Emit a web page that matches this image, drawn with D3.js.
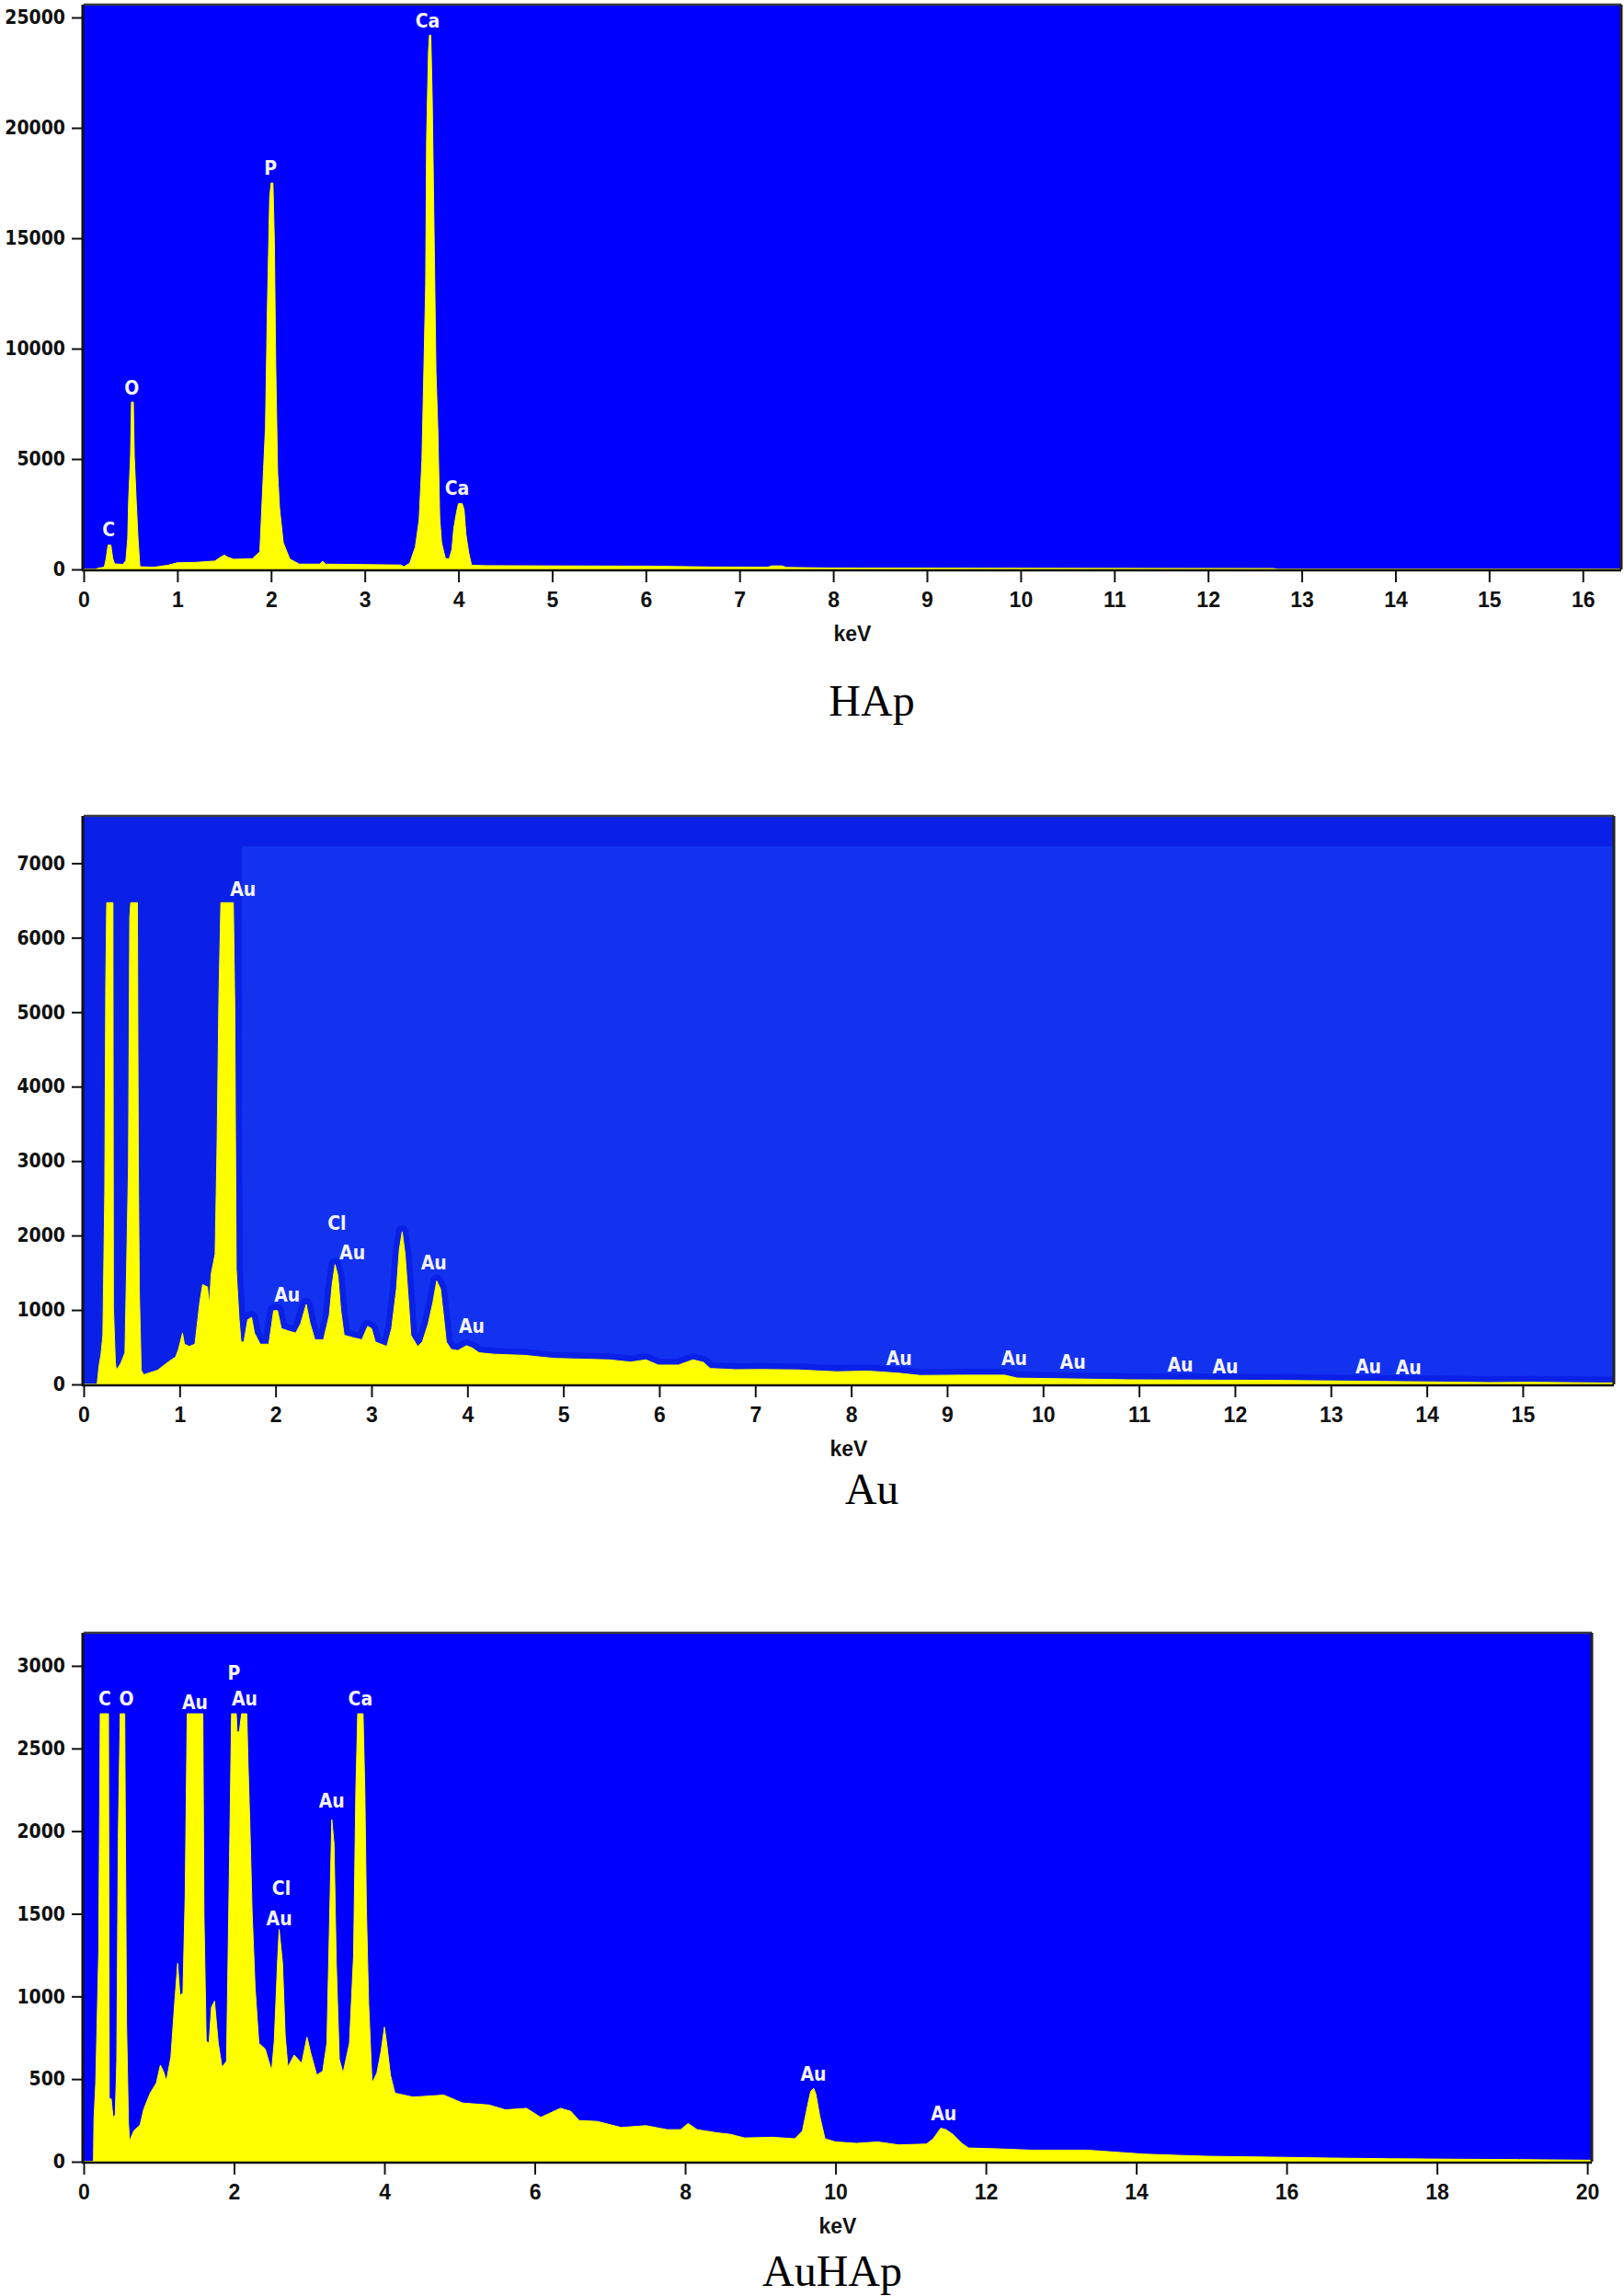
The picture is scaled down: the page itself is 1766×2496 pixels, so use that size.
<!DOCTYPE html>
<html>
<head>
<meta charset="utf-8">
<script src="https://cdn.jsdelivr.net/npm/d3@7"></script>
<style>
body { margin: 0; background: #ffffff; }
svg { display: block; }
.ytick text { font-family: "DejaVu Sans Condensed", "DejaVu Sans", sans-serif; font-stretch: condensed; font-weight: bold; font-size: 21px; fill: #111; }
.xtick text { font-family: "Liberation Sans", Arial, sans-serif; font-weight: bold; font-size: 23px; fill: #111; }
.unit { font-family: "Liberation Sans", Arial, sans-serif; font-weight: bold; font-size: 23px; fill: #111; }
.peak { font-family: "DejaVu Sans Condensed", "DejaVu Sans", sans-serif; font-stretch: condensed; font-weight: bold; font-size: 21px; fill: #f4f4f4; }
.title { font-family: "Liberation Serif", "Times New Roman", serif; font-size: 48px; fill: #000; }
</style>
</head>
<body>
<script>

// ---- HAp spectrum ----
const hapKeV = [0, 0.12, 0.16, 0.22, 0.24, 0.26, 0.29, 0.31, 0.33, 0.42, 0.45, 0.47, 0.48, 0.50, 0.51, 0.53, 0.54, 0.56, 0.58, 0.60,
  0.75, 0.9, 1.0, 1.2, 1.4, 1.46, 1.5, 1.54, 1.6, 1.8, 1.88, 1.92, 1.94, 1.96, 1.985, 2.0, 2.02, 2.035, 2.05, 2.07, 2.09, 2.13, 2.2, 2.3,
  2.52, 2.55, 2.58, 3.0, 3.38, 3.42, 3.48, 3.54, 3.58, 3.61, 3.635, 3.65, 3.66, 3.68, 3.69, 3.705, 3.72, 3.74, 3.76, 3.78, 3.80, 3.82, 3.86, 3.9,
  3.93, 3.95, 3.98, 4.0, 4.04, 4.06, 4.08, 4.11, 4.14, 4.3, 5.0, 6.0, 6.7, 7.3, 7.35, 7.45, 7.5, 8.0, 12.7, 12.75, 16.41];
const hapCounts = [0, 0, 60, 100, 500, 1100, 1100, 500, 250, 230, 400, 1400, 3170, 5160, 7580, 7580, 5160, 3170, 1400, 120,
  100, 190, 300, 320, 380, 550, 650, 550, 460, 480, 800, 4560, 6430, 11700, 16860, 17500, 17500, 14900, 9200, 4380, 2800, 1210, 470, 240,
  240, 370, 240, 220, 200, 130, 280, 1020, 2240, 4940, 9870, 12950, 19560, 23470, 24200, 24200, 21330, 15180, 8940, 6330, 2330, 1210, 500, 470,
  900, 1860, 2600, 2980, 2980, 2700, 1580, 745, 186, 170, 160, 150, 110, 100, 160, 160, 90, 60, 40, 0, 0];
const hapYTicks = [0, 5000, 10000, 15000, 20000, 25000];
const hapXTicks = [0, 1, 2, 3, 4, 5, 6, 7, 8, 9, 10, 11, 12, 13, 14, 15, 16];
const hapLabels = ["C", "O", "P", "Ca", "Ca"];
const hapLabelKeV = [0.267, 0.512, 1.994, 3.67, 3.985];
const hapLabelCounts = [1497, 7919, 17870, 24540, 3357];

// ---- Au spectrum ----
const auKeV = [0, 0.14, 0.16, 0.18, 0.2, 0.22, 0.23, 0.24, 0.305, 0.31, 0.33, 0.34, 0.386, 0.43, 0.45, 0.467, 0.48, 0.49, 0.56, 0.57, 0.58, 0.60, 0.625,
  0.77, 0.88, 0.96, 0.99, 1.03, 1.05, 1.1, 1.16, 1.21, 1.24, 1.29, 1.31, 1.33, 1.37, 1.39, 1.41, 1.43, 1.56, 1.575, 1.59, 1.62, 1.64, 1.67,
  1.71, 1.75, 1.78, 1.84, 1.93, 1.98, 2.02, 2.06, 2.13, 2.21, 2.26, 2.32, 2.355, 2.41, 2.5, 2.56, 2.59, 2.62, 2.65, 2.68, 2.715, 2.8, 2.9,
  2.96, 3.0, 3.04, 3.16, 3.21, 3.26, 3.29, 3.32, 3.35, 3.38, 3.41, 3.48, 3.53, 3.59, 3.64, 3.68, 3.72, 3.75, 3.78, 3.83, 3.9, 3.99, 4.05,
  4.12, 4.28, 4.6, 4.9, 5.48, 5.7, 5.86, 5.99, 6.2, 6.35, 6.46, 6.53, 6.79, 7.08, 7.44, 7.85, 8.17, 8.5, 8.72, 9.15, 9.6, 9.73, 10.9, 12.5,
  14.65, 15.1, 15.8, 15.95];
const auCounts = [0, 0, 250, 400, 660, 2580, 5360, 6470, 6470, 1045, 300, 190, 280, 425, 1750, 2940, 6270, 6470, 6470, 2940, 1250, 190, 130,
  190, 300, 370, 480, 690, 540, 510, 540, 1100, 1340, 1310, 1075, 1490, 1750, 3200, 5240, 6470, 6470, 5060, 1550, 870, 570, 570,
  870, 900, 690, 540, 540, 990, 990, 750, 720, 690, 810, 1075, 840, 600, 600, 930, 1340, 1610, 1460, 990, 660, 630, 600,
  780, 750, 570, 510, 750, 1280, 1810, 2050, 1750, 1220, 660, 510, 570, 810, 1100, 1390, 1280, 930, 570, 470, 455, 520, 490,
  425, 405, 390, 350, 330, 300, 330, 260, 260, 330, 297, 214, 198, 200, 195, 170, 180, 150, 120, 125, 125, 85, 62, 54,
  25, 29, 20, 20];
const auYTicks = [0, 1000, 2000, 3000, 4000, 5000, 6000, 7000];
const auXTicks = [0, 1, 2, 3, 4, 5, 6, 7, 8, 9, 10, 11, 12, 13, 14, 15];
const auLabels = ["Au", "Au", "Cl", "Au", "Au", "Au", "Au", "Au", "Au", "Au", "Au", "Au", "Au"];
const auLabelKeV = [1.66, 2.12, 2.64, 2.80, 3.65, 4.045, 8.50, 9.70, 10.31, 11.43, 11.90, 13.39, 13.81];
const auLabelCounts = [6557, 1112, 2076, 1680, 1545, 692, 256, 256, 206, 177, 152, 152, 132];

// ---- AuHAp spectrum ----
const auhapKeV = [0, 0.13, 0.137, 0.16, 0.2, 0.22, 0.33, 0.34, 0.366, 0.39, 0.42, 0.44, 0.46, 0.486, 0.546, 0.557, 0.57, 0.596, 0.61, 0.667,
  0.75, 0.8, 0.885, 0.967, 1.02, 1.06, 1.1, 1.16, 1.21, 1.25, 1.28, 1.32, 1.35, 1.377, 1.585, 1.6, 1.63, 1.667, 1.7, 1.74, 1.79, 1.84, 1.9,
  1.94, 1.967, 2.03, 2.04, 2.07, 2.1, 2.17, 2.186, 2.21, 2.24, 2.28, 2.33, 2.415, 2.5, 2.535, 2.58, 2.6, 2.645, 2.68, 2.716, 2.8, 2.9, 2.97,
  3.02, 3.1, 3.18, 3.235, 3.27, 3.3, 3.33, 3.36, 3.4, 3.45, 3.535, 3.59, 3.62, 3.645, 3.716, 3.74, 3.76, 3.79, 3.836, 3.9, 3.956, 4.0, 4.03,
  4.08, 4.14, 4.38, 4.79, 5.04, 5.39, 5.61, 5.89, 6.08, 6.34, 6.48, 6.59, 6.83, 7.15, 7.48, 7.76, 7.94, 8.04, 8.16, 8.41, 8.6, 8.79, 9.16,
  9.46, 9.56, 9.63, 9.67, 9.71, 9.74, 9.79, 9.86, 10.0, 10.28, 10.56, 10.84, 11.21, 11.3, 11.4, 11.47, 11.56, 11.68, 11.77, 12.15, 12.61,
  13.35, 14.1, 14.93, 15.76, 16.6, 17.4, 18.25, 19.1, 20.06];
const auhapCounts = [0, 0, 258, 476, 1270, 2710, 2710, 380, 380, 270, 283, 608, 1950, 2710, 2710, 1830, 838, 234, 125, 186,
  222, 319, 415, 476, 584, 548, 488, 633, 959, 1200, 1007, 1019, 1610, 2710, 2710, 1490, 729, 717, 935, 971, 717, 572, 608,
  1828, 2710, 2710, 2600, 2600, 2710, 2710, 2408, 2045, 1514, 1055, 717, 681, 548, 729, 1224, 1405, 1200, 765, 572, 645, 596, 753,
  657, 524, 548, 717, 1442, 2070, 1925, 1200, 620, 536, 717, 1249, 2239, 2710, 2710, 2239, 1538, 959, 476, 536, 669, 814, 717,
  524, 415, 391, 403, 355, 343, 314, 323, 268, 323, 305, 249, 244, 207, 218, 194, 194, 231, 194, 176, 166, 144, 148,
  139, 185, 342, 425, 444, 407, 277, 139, 120, 111, 120, 102, 107, 139, 203, 194, 166, 111, 83, 78, 70,
  70, 46, 33, 28, 22, 18, 15, 13, 9];
const auhapYTicks = [0, 500, 1000, 1500, 2000, 2500, 3000];
const auhapXTicks = [0, 2, 4, 6, 8, 10, 12, 14, 16, 18, 20];
const auhapLabels = ["C", "O", "Au", "P", "Au", "Ca", "Au", "Cl", "Au", "Au", "Au"];
const auhapLabelKeV = [0.28, 0.57, 1.48, 2.0, 2.14, 3.68, 3.30, 2.63, 2.60, 9.705, 11.44];
const auhapLabelCounts = [2760, 2760, 2738, 2915, 2760, 2760, 2140, 1614, 1433, 491, 250];

var width = 1766, height = 2496;
var svg = d3.select("body").append("svg").attr("width", width).attr("height", height);

var panels = [
  {id: "hap", left: 91, right: 1763, top: 5, bottom: 619, xMax: 16.41, yMax: 25583,
   keV: hapKeV, counts: hapCounts, xTicks: hapXTicks, yTicks: hapYTicks,
   labels: hapLabels, labelKeV: hapLabelKeV, labelCounts: hapLabelCounts,
   bg: "#0000ff", title: "HAp", titleX: 948, titleY: 778},
  {id: "au", left: 91, right: 1755, top: 887, bottom: 1505, xMax: 15.95, yMax: 7635,
   keV: auKeV, counts: auCounts, xTicks: auXTicks, yTicks: auYTicks,
   labels: auLabels, labelKeV: auLabelKeV, labelCounts: auLabelCounts,
   bg: "#1232f0", dark: "#0a20e6", title: "Au", titleX: 948, titleY: 1635},
  {id: "auhap", left: 91, right: 1731, top: 1775, bottom: 2350, xMax: 20.06, yMax: 3200,
   keV: auhapKeV, counts: auhapCounts, xTicks: auhapXTicks, yTicks: auhapYTicks,
   labels: auhapLabels, labelKeV: auhapLabelKeV, labelCounts: auhapLabelCounts,
   bg: "#0000ff", title: "AuHAp", titleX: 905, titleY: 2485}
];

panels.forEach(function(p){
  var x = d3.scaleLinear().domain([0, p.xMax]).range([p.left, p.right]);
  var y = d3.scaleLinear().domain([0, p.yMax]).range([p.bottom, p.top]);
  var g = svg.append("g");

  g.append("clipPath").attr("id", "clip-" + p.id)
    .append("rect").attr("x", p.left).attr("y", p.top)
    .attr("width", p.right - p.left).attr("height", p.bottom - p.top);

  g.append("rect").attr("x", p.left).attr("y", p.top)
    .attr("width", p.right - p.left).attr("height", p.bottom - p.top)
    .attr("fill", p.bg);

  var pts = p.keV.map(function(k, i){ return [k, p.counts[i]]; });
  var area = d3.area().x(function(d){ return x(d[0]); }).y0(y(0)).y1(function(d){ return y(d[1]); });

  // darker shading seen in the Au scan
  if (p.dark) {
    g.append("rect").attr("x", p.left).attr("y", p.top)
      .attr("width", p.right - p.left).attr("height", 33).attr("fill", p.dark);
    g.append("rect").attr("x", p.left).attr("y", p.top)
      .attr("width", x(1.65) - p.left).attr("height", p.bottom - p.top).attr("fill", p.dark);
    g.append("path").datum(pts).attr("d", area)
      .attr("fill", p.dark).attr("stroke", p.dark).attr("stroke-width", 14)
      .attr("stroke-linejoin", "round").attr("clip-path", "url(#clip-" + p.id + ")");
  }

  g.append("path").datum(pts).attr("d", area)
    .attr("fill", "#ffff00").attr("stroke", "#ffff00").attr("stroke-width", 1)
    .attr("clip-path", "url(#clip-" + p.id + ")");

  // frame
  g.append("line").attr("x1", p.left).attr("x2", p.right).attr("y1", p.top).attr("y2", p.top)
    .attr("stroke", "#3a3a3a").attr("stroke-width", 2.5);
  g.append("line").attr("x1", p.right).attr("x2", p.right).attr("y1", p.top).attr("y2", p.bottom)
    .attr("stroke", "#222").attr("stroke-width", 3);
  g.append("line").attr("x1", p.left - 1).attr("x2", p.left - 1).attr("y1", p.top).attr("y2", p.bottom + 1)
    .attr("stroke", "#111").attr("stroke-width", 3);
  g.append("line").attr("x1", p.left - 2).attr("x2", p.right).attr("y1", p.bottom + 1).attr("y2", p.bottom + 1)
    .attr("stroke", "#111").attr("stroke-width", 2.5);

  var xAxis = g.append("g").attr("class", "xtick")
    .attr("transform", "translate(0," + (p.bottom + 1) + ")")
    .call(d3.axisBottom(x).tickValues(p.xTicks).tickSize(13).tickSizeOuter(0).tickFormat(d3.format("d")));
  xAxis.select(".domain").remove();
  xAxis.selectAll("line").attr("stroke", "#111").attr("stroke-width", 2);
  xAxis.selectAll("text").attr("y", 40).attr("dy", null);

  var yAxis = g.append("g").attr("class", "ytick")
    .attr("transform", "translate(" + (p.left - 1) + ",0)")
    .call(d3.axisLeft(y).tickValues(p.yTicks).tickSize(12).tickSizeOuter(0).tickPadding(7).tickFormat(d3.format("d")));
  yAxis.select(".domain").remove();
  yAxis.selectAll("line").attr("stroke", "#111").attr("stroke-width", 2);
  xAxis.attr("font-family", null).attr("font-size", null);
  yAxis.attr("font-family", null).attr("font-size", null);

  g.selectAll(".peak").data(p.labels).enter().append("text")
    .attr("class", "peak").attr("text-anchor", "middle")
    .attr("x", function(d, i){ return x(p.labelKeV[i]); })
    .attr("y", function(d, i){ return y(p.labelCounts[i]); })
    .text(function(d){ return d; });

  g.append("text").attr("class", "unit").attr("text-anchor", "middle")
    .attr("x", (p.left + p.right) / 2).attr("y", p.bottom + 78).text("keV");

  g.append("text").attr("class", "title").attr("text-anchor", "middle")
    .attr("x", p.titleX).attr("y", p.titleY).text(p.title);
});

</script>
</body>
</html>
